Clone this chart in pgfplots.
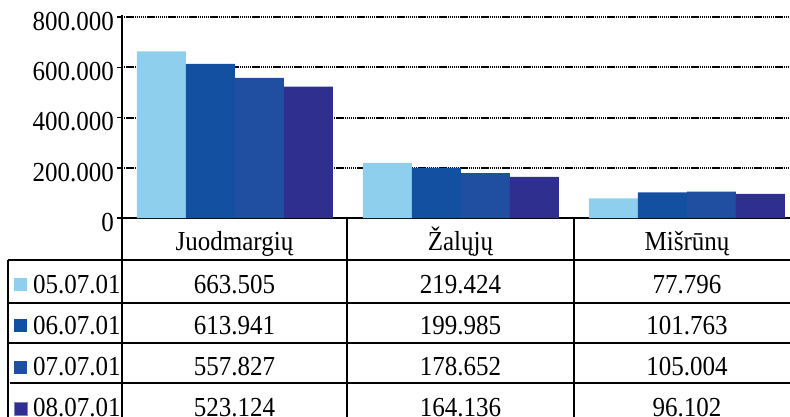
\documentclass[border=0pt]{standalone}
\usepackage{fontspec}
\setmainfont{Liberation Serif}
\usepackage{pgfplots}
\pgfplotsset{compat=1.18}
\definecolor{cA}{RGB}{143,207,238}
\definecolor{cB}{RGB}{20,80,162}
\definecolor{cC}{RGB}{32,78,160}
\definecolor{cD}{RGB}{46,47,142}
\begin{document}
\begin{tikzpicture}[x=1pt,y=1pt,font=\fontsize{25}{29}\selectfont,
  txt/.style={yscale=1.1, inner sep=0pt}]
\begin{axis}[
  at={(0,0)}, anchor=south west, scale only axis,
  width=668pt, height=203pt,
  xmin=-0.5, xmax=2.456, ymin=0, ymax=808,
  ybar=0pt, bar width=49pt,
  axis lines*=left,
  axis line style={black, line width=1.5pt},
  xtick=\empty,
  ytick={0,200,400,600,800},
  yticklabels={0,200.000,400.000,600.000,800.000},
  ymajorgrids,
  major grid style={black, line width=2pt, dash pattern=on 1.4pt off 0.7pt},
  tick style={black, line width=1.5pt},
  major tick length=5pt, tick align=outside,
  yticklabel style={font=\fontsize{25}{29}\selectfont, inner sep=0pt, yscale=1.1, yshift=-4pt, xshift=-3pt},
  clip=false,
]
\addplot[fill=cA, draw=none] coordinates {(0,663.505) (1,219.424) (2,77.796)};
\addplot[fill=cB, draw=none] coordinates {(0,613.941) (1,199.985) (2,101.763)};
\addplot[fill=cC, draw=none] coordinates {(0,557.827) (1,178.652) (2,105.004)};
\addplot[fill=cD, draw=none] coordinates {(0,523.124) (1,164.136) (2,96.102)};
\end{axis}
% data table
\begin{scope}[line width=1.5pt]
\draw (-114,-42) -- (668,-42);
\draw (-114,-85) -- (668,-85);
\draw (-114,-125) -- (668,-125);
\draw (-112,-165) -- (668,-165);
\draw (-114,-42) -- (-114,-200);
\draw (0,0) -- (0,-200);
\draw (225,0) -- (225,-200);
\draw (452,0) -- (452,-200);
\end{scope}
% legend keys of the table
\fill[cA] (-108,-73) rectangle (-95,-60);
\fill[cB] (-108,-114.3) rectangle (-95,-101.3);
\fill[cC] (-108,-155.6) rectangle (-95,-142.6);
\fill[cD, draw=cD!60!white, line width=0.6pt] (-108,-196.9) rectangle (-95,-183.9);
\node[txt, anchor=base west] at (-89,-75) {05.07.01};
\node[txt, anchor=base west] at (-89,-116.3) {06.07.01};
\node[txt, anchor=base west] at (-89,-157.6) {07.07.01};
\node[txt, anchor=base west] at (-89,-198.9) {08.07.01};
\node[txt, anchor=base] at (112.5,-32) {Juodmargių};
\node[txt, anchor=base] at (338.5,-32) {Žalųjų};
\node[txt, anchor=base] at (565,-32) {Mišrūnų};
\node[txt, anchor=base] at (112.5,-75) {663.505};
\node[txt, anchor=base] at (338.5,-75) {219.424};
\node[txt, anchor=base] at (565,-75) {77.796};
\node[txt, anchor=base] at (112.5,-116.3) {613.941};
\node[txt, anchor=base] at (338.5,-116.3) {199.985};
\node[txt, anchor=base] at (565,-116.3) {101.763};
\node[txt, anchor=base] at (112.5,-157.6) {557.827};
\node[txt, anchor=base] at (338.5,-157.6) {178.652};
\node[txt, anchor=base] at (565,-157.6) {105.004};
\node[txt, anchor=base] at (112.5,-198.9) {523.124};
\node[txt, anchor=base] at (338.5,-198.9) {164.136};
\node[txt, anchor=base] at (565,-198.9) {96.102};
\pgfresetboundingbox
\useasboundingbox (-122,-198) rectangle (668,218);
\end{tikzpicture}
\end{document}
